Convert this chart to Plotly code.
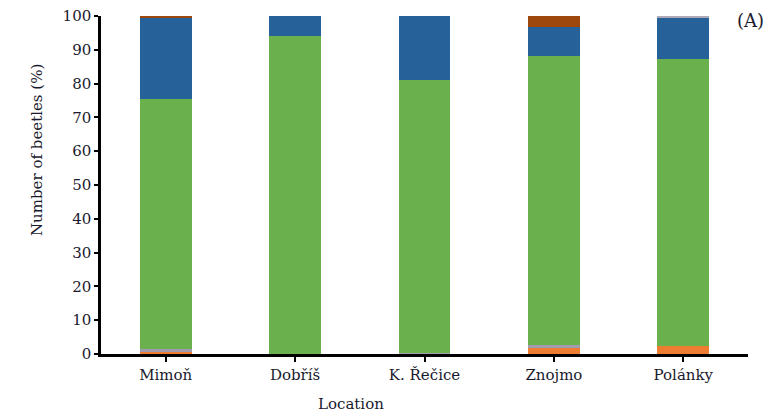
import plotly.graph_objects as go

locations = ["Mimoň", "Dobříš", "K. Řečice", "Znojmo", "Polánky"]
orange = [0.7, 0.0, 0.0, 1.8, 2.5]
grey = [0.8, 0.0, 0.3, 0.8, 0.0]
green = [74.0, 94.0, 80.8, 85.6, 84.8]
blue = [24.2, 6.0, 18.9, 8.5, 12.2]
brown = [0.3, 0.0, 0.0, 3.3, 0.0]
grey_top = [0.0, 0.0, 0.0, 0.0, 0.5]

series = [
    ("orange", orange, "#ED7D31"),
    ("grey", grey, "#A29BAF"),
    ("green", green, "#6AB04C"),
    ("blue", blue, "#26619A"),
    ("brown", brown, "#9E480E"),
    ("grey top", grey_top, "#B0A9B8"),
]

fig = go.Figure()
for name, vals, col in series:
    fig.add_trace(go.Bar(x=locations, y=vals, name=name, marker_color=col,
                         marker_line_width=0, width=0.4))

font = "DejaVu Serif, Liberation Serif, serif"
txtcol = "#1a1a2e"
fig.update_layout(
    barmode="stack",
    width=779, height=418,
    margin=dict(l=101, r=31, t=16, b=64, autoexpand=False),
    paper_bgcolor="white", plot_bgcolor="white",
    showlegend=False,
    font=dict(family=font, size=15, color=txtcol),
    xaxis=dict(
        range=[-0.5, 4.5], showline=True, linecolor="black", linewidth=2.5,
        ticks="outside", ticklen=5, tickwidth=2, tickcolor="black",
        tickfont=dict(size=15), automargin=False,
        showgrid=False,
    ),
    yaxis=dict(
        range=[0, 100], dtick=10, showline=True, linecolor="black", linewidth=2.5,
        ticks="outside", ticklen=4, tickwidth=2, tickcolor="black",
        tickfont=dict(size=15), automargin=False,
        showgrid=False, zeroline=False,
    ),
    annotations=[
        dict(text="(A)", x=735, y=21, xref="paper", yref="paper",
             showarrow=False, font=dict(size=18)),
        dict(text="Location", x=351, y=404, showarrow=False, font=dict(size=15)),
        dict(text="Number of beetles (%)", x=37, y=150, textangle=-90,
             showarrow=False, font=dict(size=15)),
    ],
)

# convert pixel positions of annotations to paper coordinates
W, H = 779, 418
l, r, t, b = 101, 31, 16, 64
pw, ph = W - l - r, H - t - b
new_ann = []
for a in fig.layout.annotations:
    px, py = a.x, a.y
    a.x = (px - l) / pw
    a.y = (H - b - py) / ph
    a.xref = "paper"
    a.yref = "paper"
    a.xanchor = "left" if a.text == "(A)" else "center"
    a.yanchor = "middle"
    new_ann.append(a)
fig.layout.annotations = new_ann

fig.write_html("out.html")
